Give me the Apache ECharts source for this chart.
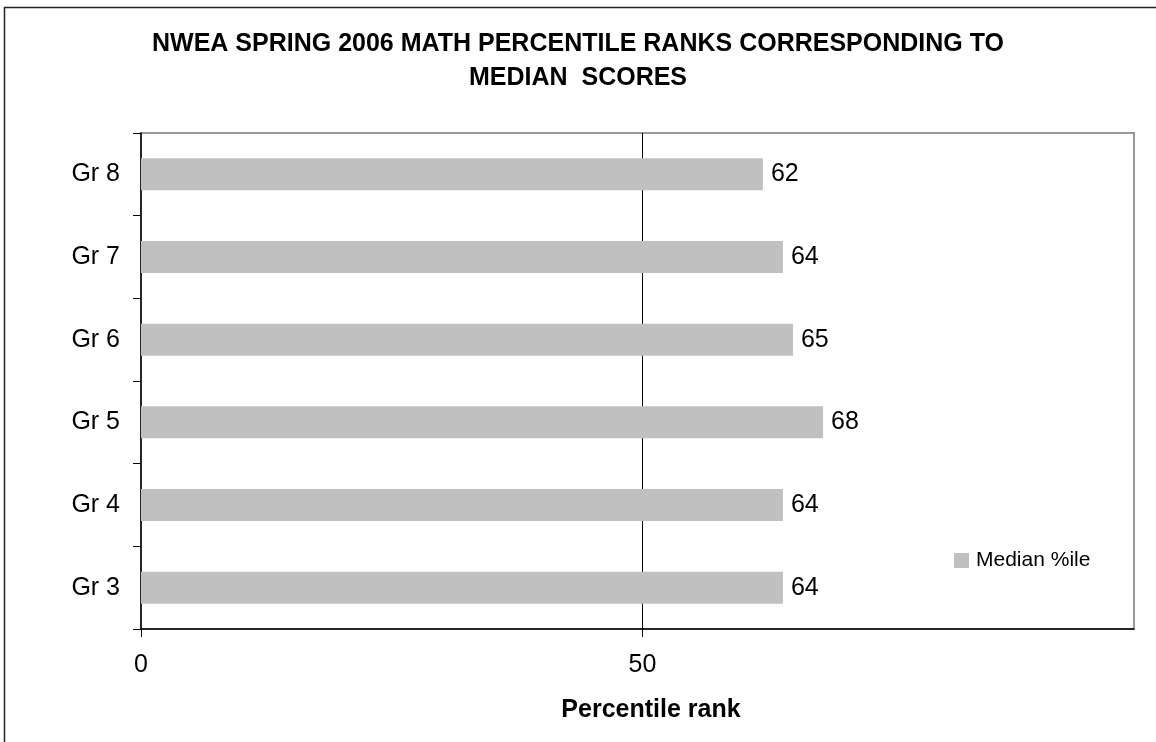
<!DOCTYPE html>
<html>
<head>
<meta charset="utf-8">
<script src="https://cdn.jsdelivr.net/npm/echarts@6/dist/echarts.min.js"></script>
<style>
html,body{margin:0;padding:0;background:#fff;}
#chart{width:1156px;height:742px;}
</style>
</head>
<body>
<div id="chart"></div>
<script>
var categories = ["Gr 3", "Gr 4", "Gr 5", "Gr 6", "Gr 7", "Gr 8"];
var medianValues = [64, 64, 68, 65, 64, 62];
var xTicks = [0, 50];
var seriesName = "Median %ile";
var titleText = "NWEA SPRING 2006 MATH PERCENTILE RANKS CORRESPONDING TO\nMEDIAN  SCORES";
var xAxisTitle = "Percentile rank";

var FONT = "'Liberation Sans', Arial, sans-serif";
var chart = echarts.init(document.getElementById('chart'), null, {renderer: 'canvas'});
chart.setOption({
  backgroundColor: '#fff',
  animation: false,
  textStyle: {fontFamily: FONT},
  title: {
    text: titleText,
    left: 'center',
    top: 27,
    padding: 0,
    textStyle: {fontFamily: FONT, fontSize: 25, fontWeight: 'bold', color: '#000', lineHeight: 34, align: 'center'}
  },
  legend: {
    data: [seriesName],
    left: 954,
    top: 550,
    padding: 0,
    orient: 'vertical',
    icon: 'rect',
    itemWidth: 15,
    itemHeight: 15,
    itemGap: 0,
    selectedMode: false,
    textStyle: {fontFamily: FONT, fontSize: 21, color: '#000', padding: [0,0,0,2]}
  },
  grid: {
    left: 141, right: 22, top: 133, bottom: 113,
    show: true, borderColor: '#999', borderWidth: 2, backgroundColor: '#fff'
  },
  xAxis: {
    type: 'value',
    min: 0, max: 99, interval: 50,
    name: xAxisTitle,
    nameLocation: 'middle',
    nameGap: 69,
    nameTextStyle: {fontFamily: FONT, fontSize: 25, fontWeight: 'bold', color: '#000', padding: [0,0,0,27]},
    axisLine: {show: true, lineStyle: {color: '#000', width: 1.5}},
    axisTick: {show: true, inside: false, length: 8, lineStyle: {color: '#000'}, customValues: xTicks},
    axisLabel: {color: '#000', fontSize: 25, fontFamily: FONT, margin: 24, customValues: xTicks},
    splitLine: {show: true, showMinLine: false, lineStyle: {color: '#000', width: 1}}
  },
  yAxis: {
    type: 'category',
    data: categories,
    axisLine: {show: true, lineStyle: {color: '#000', width: 1.5}},
    axisTick: {show: true, inside: false, length: 8, alignWithLabel: false, lineStyle: {color: '#000'}},
    axisLabel: {color: '#000', fontSize: 25, fontFamily: FONT, margin: 21},
    splitLine: {show: false}
  },
  series: [{
    name: seriesName,
    type: 'bar',
    data: medianValues,
    barWidth: 32,
    itemStyle: {color: '#C0C0C0'},
    label: {show: true, position: 'right', distance: 8, color: '#000', fontSize: 25, fontFamily: FONT}
  }],
  graphic: [{
    type: 'rect',
    shape: {x: 4.5, y: 7.5, width: 1300, height: 900},
    style: {fill: 'none', stroke: '#222', lineWidth: 1.5},
    silent: true
  }]
});
</script>
</body>
</html>
